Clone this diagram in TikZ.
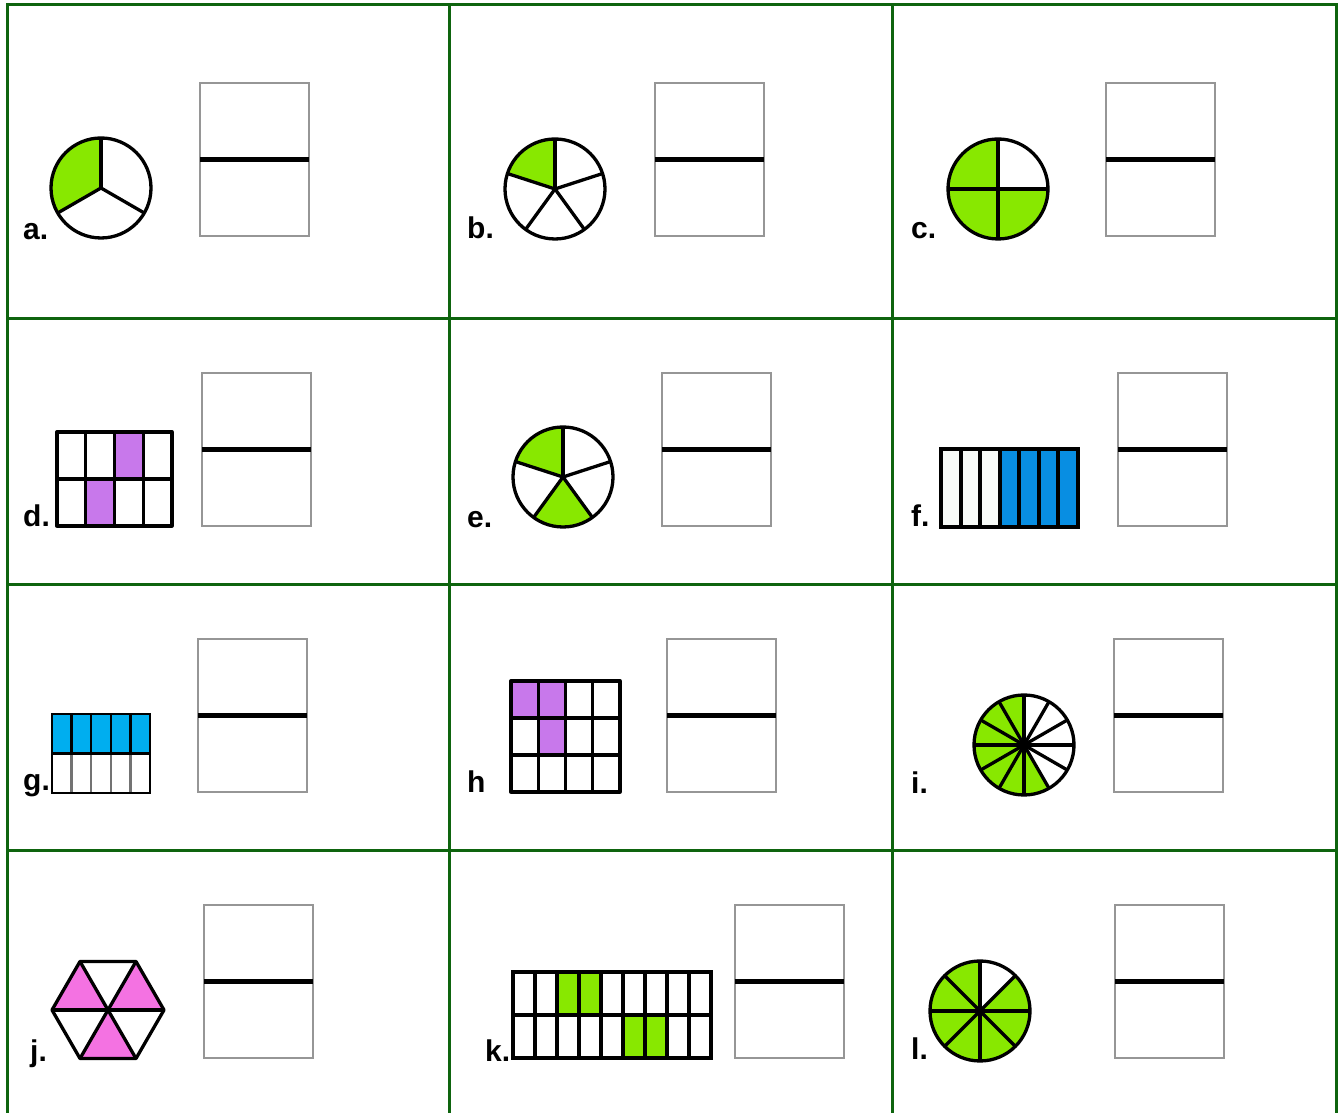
\documentclass[tikz,border=0pt]{standalone}
\usepackage{fontspec}
\setmainfont{Liberation Sans}
\usetikzlibrary{calc}
\definecolor{gridgreen}{RGB}{14,100,14}
\definecolor{pgreen}{RGB}{136,232,0}
\definecolor{ppurple}{RGB}{200,120,235}
\definecolor{pblue}{RGB}{8,142,226}
\definecolor{pcyan}{RGB}{0,174,239}
\definecolor{ppink}{RGB}{244,114,226}
\definecolor{boxgray}{RGB}{150,150,150}
\definecolor{offwhite}{RGB}{248,251,248}
\newcommand{\mypie}[4]{%
  \foreach \k in {#4}{\fill[pgreen] (#1,#2) -- ++({90+\k*360/#3}:50) arc[start angle={90+\k*360/#3}, delta angle={360/#3}, radius=50pt] -- cycle;}
  \foreach \k in {1,...,#3}{\draw[figline] (#1,#2) -- ++({90+\k*360/#3}:50);}
  \draw[figline] (#1,#2) circle[radius=50pt];
}
\begin{document}
\begin{tikzpicture}[x=1pt,y=1pt,
  gridline/.style={line width=3pt, gridgreen},
  figline/.style={line width=3.3pt, black, line join=round},
  ansbox/.style={draw=boxgray, line width=2pt, minimum width=109pt, minimum height=153pt, inner sep=0pt, outer sep=0pt},
  fracline/.style={line width=5.5pt, black},
  lbl/.style={anchor=base west, inner sep=0pt, font=\fontsize{30}{32}\selectfont\bfseries}]
\useasboundingbox (0,0) rectangle (1338,1113);
\fill[white] (0,0) rectangle (1338,1113);
% table grid
\draw[gridline] (7,0) -- (7,1108) -- (1336,1108) -- (1336,0);
\draw[gridline] (449,0) -- (449,1108);
\draw[gridline] (892,0) -- (892,1108);
\foreach \yy in {794,528,262} \draw[gridline] (7,\yy) -- (1336,\yy);

% answer boxes
\foreach \nm/\cx/\cy in {a/254.5/953.5, b/709.5/953.5, c/1160.5/953.5,
                         d/256.5/663.5, e/716.5/663.5, f/1172.5/663.5,
                         g/252.5/397.5, h/721.5/397.5, i/1168.5/397.5,
                         j/258.5/131.5, k/789/131.5, l/1169.5/131.5}{
  \node[ansbox] (box\nm) at (\cx,\cy) {};
  \draw[fracline] (box\nm.west) -- (box\nm.east);
}

% labels
\node[lbl] (la) at (23,873) {a.};
\node[lbl] (lb) at (467,874) {b.};
\node[lbl] (lc) at (911,874) {c.};
\node[lbl] (ld) at (23,586) {d.};
\node[lbl] (le) at (467,585) {e.};
\node[lbl] (lf) at (911,586) {f.};
\node[lbl] (lg) at (23,322) {g.};
\node[lbl] (lh) at (467,320) {h};
\node[lbl] (li) at (911,319) {i.};
\node[lbl] (lj) at (30,51) {j.};
\node[lbl] (lk) at (485,51) {k.};
\node[lbl] (ll) at (911,53) {l.};

% a: thirds
\mypie{101}{925}{3}{0}
% b: fifths
\mypie{555}{924}{5}{0}
% c: quarters
\mypie{998}{924}{4}{0,1,2}
% e: fifths
\mypie{563}{636}{5}{0,2}
% i: twelfths
\mypie{1024}{368}{12}{0,1,2,3,4,5,6}
% l: eighths
\mypie{980}{102}{8}{0,1,2,3,4,5,6}

% d: 4x2 grid
\fill[ppurple] (114.5,634) rectangle (143.25,681);
\fill[ppurple] (85.75,587) rectangle (114.5,634);
\foreach \xx in {85.75,114.5,143.25} \draw[figline] (\xx,587) -- (\xx,681);
\draw[figline] (57,634) -- (172,634);
\draw[figline] (57,587) rectangle (172,681);

% f: 7 columns
\fill[offwhite] (941,586) rectangle (999.71,664);
\fill[pblue] (999.71,586) rectangle (1078,664);
\foreach \c in {1,...,6} \draw[line width=4pt] ({941+\c*137/7},586) -- ({941+\c*137/7},664);
\draw[line width=4pt] (941,586) rectangle (1078,664);

% g: 5x2
\fill[pcyan] (52,359.5) rectangle (150,399);
\foreach \c in {1,...,4} {
  \draw[line width=2.5pt, black!55] ({52+\c*19.6},320) -- ({52+\c*19.6},359.5);
  \draw[line width=2.5pt] ({52+\c*19.6},359.5) -- ({52+\c*19.6},399);
}
\draw[line width=2.5pt] (52,359.5) -- (150,359.5);
\draw[line width=2.5pt] (52,320) rectangle (150,399);

% h: 4x3
\fill[ppurple] (511,395) rectangle (565.5,432);
\fill[ppurple] (538.25,358) rectangle (565.5,395);
\foreach \c in {1,2,3} \draw[figline] ({511+\c*27.25},321) -- ({511+\c*27.25},432);
\foreach \yy in {358,395} \draw[figline] (511,\yy) -- (620,\yy);
\draw[figline] (511,321) rectangle (620,432);

% j: hexagon
\coordinate (hc) at (108,103);
\fill[ppink] (hc) -- ++(120:56) -- ++(240:56) -- cycle;
\fill[ppink] (hc) -- ++(0:56) -- ++(120:56) -- cycle;
\fill[ppink] (hc) -- ++(240:56) -- ++(0:56) -- cycle;
\draw[figline] ($(hc)+(0:56)$) -- ($(hc)+(180:56)$);
\draw[figline] ($(hc)+(60:56)$) -- ($(hc)+(240:56)$);
\draw[figline] ($(hc)+(120:56)$) -- ($(hc)+(300:56)$);
\draw[figline] ($(hc)+(0:56)$) -- ($(hc)+(60:56)$) -- ($(hc)+(120:56)$) -- ($(hc)+(180:56)$) -- ($(hc)+(240:56)$) -- ($(hc)+(300:56)$) -- cycle;

% k: 9x2
\fill[pgreen] (557,98) rectangle (601,141);
\fill[pgreen] (623,55) rectangle (667,98);
\foreach \c in {1,...,8} \draw[line width=4pt] ({513+\c*22},55) -- ({513+\c*22},141);
\draw[line width=4pt] (513,98) -- (711,98);
\draw[line width=4pt] (513,55) rectangle (711,141);
\end{tikzpicture}
\end{document}
